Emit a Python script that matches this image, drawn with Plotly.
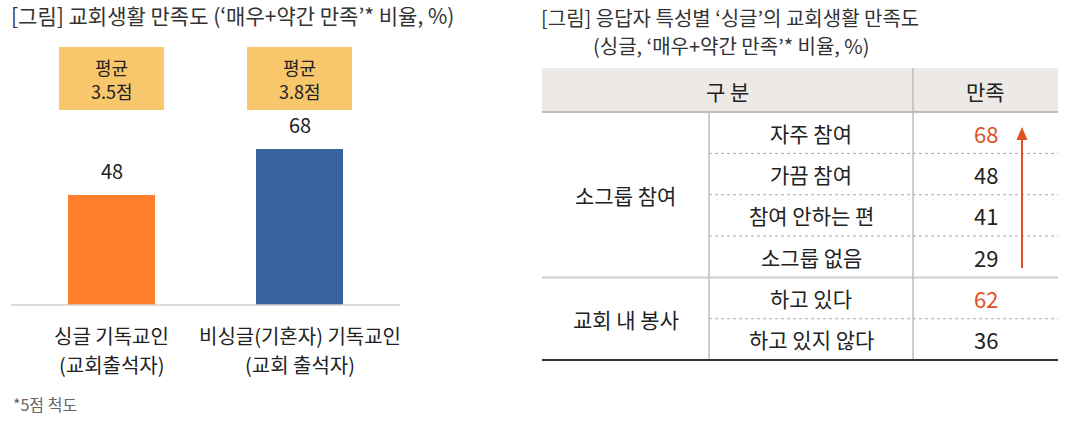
import plotly.graph_objects as go

W, H = 1078, 421
FONT = "Noto Sans CJK KR"

# ---- left chart data ----
bar_categories = ["싱글 기독교인", "비싱글(기혼자) 기독교인"]
bar_sublabels = ["(교회출석자)", "(교회 출석자)"]
bar_values = [48, 68]
bar_colors = ["#FD7E2D", "#37649F"]
avg_label = "평균"
avg_scores = ["3.5점", "3.8점"]

# ---- right table data ----
groups = ["소그룹 참여", "교회 내 봉사"]
group_sizes = [4, 2]
sub_items = ["자주 참여", "가끔 참여", "참여 안하는 편", "소그룹 없음", "하고 있다", "하고 있지 않다"]
sat_values = [68, 48, 41, 29, 62, 36]
highlight = [True, False, False, False, True, False]


def px(x):
    return x / W


def py(y):
    return 1 - y / H


def txt(x, y, text, size, color="#222", xanchor="center", xref="paper"):
    return dict(x=x, y=y, xref=xref, yref="paper", text=text, showarrow=False,
                xanchor=xanchor, yanchor="middle", font=dict(family=FONT, size=size, color=color))


fig = go.Figure()

xs = list(range(len(bar_categories)))
fig.add_trace(go.Bar(
    x=xs, y=bar_values, marker=dict(color=bar_colors, line=dict(width=0)),
    width=0.463, hoverinfo="skip", showlegend=False,
))

annotations = []
shapes = []

for i, v in enumerate(bar_values):
    annotations.append(dict(x=i, y=v, xref="x", yref="y", text=str(v), showarrow=False,
                            xanchor="center", yanchor="bottom", yshift=8,
                            font=dict(family=FONT, size=20, color="#222")))
    annotations.append(txt(i, py(335), bar_categories[i], 20, xref="x"))
    annotations.append(txt(i, py(364), bar_sublabels[i], 20, xref="x"))
    shapes.append(dict(type="rect", xref="x", yref="paper", x0=i - 0.279, x1=i + 0.279,
                       y0=py(110), y1=py(47), fillcolor="#F8C76C", line=dict(width=0), layer="below"))
    annotations.append(txt(i, py(67), avg_label, 18, xref="x"))
    annotations.append(txt(i, py(91), avg_scores[i], 18, xref="x"))

annotations.append(txt(px(9), py(15), "[그림] 교회생활 만족도 (‘매우+약간 만족’* 비율, %)", 21,
                       color="#333", xanchor="left"))
annotations.append(txt(px(11), py(404), "*5점 척도", 16, color="#666", xanchor="left"))

# ---- right table ----
TL, TR = 542, 1058
C1, C2 = 709, 913
HT, HB = 68, 112
ROW_H = 41.35

annotations.append(txt(px(539), py(17), "[그림] 응답자 특성별 ‘싱글’의 교회생활 만족도", 20,
                       color="#333", xanchor="left"))
annotations.append(txt(px(591), py(45), "(싱글, ‘매우+약간 만족’* 비율, %)", 20,
                       color="#333", xanchor="left"))

shapes.append(dict(type="rect", xref="paper", yref="paper", x0=px(TL), x1=px(TR), y0=py(HB), y1=py(HT),
                   fillcolor="#ECE9E6", line=dict(width=0), layer="below"))
annotations.append(txt(px((TL + C2) / 2), py(91), "구 분", 21))
annotations.append(txt(px((C2 + TR) / 2), py(91), "만족", 21))

row = 0
n_rows = len(sub_items)
for g, size in zip(groups, group_sizes):
    top = HB + row * ROW_H
    bottom = HB + (row + size) * ROW_H
    annotations.append(txt(px((TL + C1) / 2), py((top + bottom) / 2), g, 21))
    for k in range(size):
        r = row + k
        cy = HB + (r + 0.5) * ROW_H
        annotations.append(txt(px((C1 + C2) / 2), py(cy), sub_items[r], 21))
        annotations.append(txt(px((C2 + TR) / 2), py(cy), str(sat_values[r]), 22,
                               color="#E0521F" if highlight[r] else "#222"))
        if k < size - 1:
            ly = HB + (r + 1) * ROW_H
            shapes.append(dict(type="line", xref="paper", yref="paper", x0=px(C1), x1=px(TR),
                               y0=py(ly), y1=py(ly), line=dict(color="#AAAAAA", width=1, dash="dot")))
    row += size
    if row < n_rows:
        ly = HB + row * ROW_H
        shapes.append(dict(type="line", xref="paper", yref="paper", x0=px(TL), x1=px(TR),
                           y0=py(ly), y1=py(ly), line=dict(color="#CCCCCC", width=2)))

TB = HB + n_rows * ROW_H
shapes.append(dict(type="line", xref="paper", yref="paper", x0=px(TL), x1=px(TR), y0=py(HB), y1=py(HB),
                   line=dict(color="#AAAAAA", width=1.5)))
shapes.append(dict(type="line", xref="paper", yref="paper", x0=px(C1), x1=px(C1), y0=py(HB), y1=py(TB),
                   line=dict(color="#BBBBBB", width=1.5)))
shapes.append(dict(type="line", xref="paper", yref="paper", x0=px(C2), x1=px(C2), y0=py(HT), y1=py(TB),
                   line=dict(color="#BBBBBB", width=1.5)))
shapes.append(dict(type="line", xref="paper", yref="paper", x0=px(TL), x1=px(TR), y0=py(TB), y1=py(TB),
                   line=dict(color="#333333", width=2)))

# arrow
AX = 1022
shapes.append(dict(type="line", xref="paper", yref="paper", x0=px(AX), x1=px(AX), y0=py(268), y1=py(138),
                   line=dict(color="#E0521F", width=2)))
shapes.append(dict(type="path", xref="paper", yref="paper",
                   path=f"M {px(AX - 5.5)},{py(140)} L {px(AX + 5.5)},{py(140)} L {px(AX)},{py(127)} Z",
                   fillcolor="#E0521F", line=dict(width=0)))

# baseline of bar chart
shapes.append(dict(type="line", xref="paper", yref="paper", x0=px(11), x1=px(400),
                   y0=py(305), y1=py(305), line=dict(color="#D0D0D0", width=1.5)))

fig.update_layout(
    width=W, height=H, margin=dict(l=0, r=0, t=0, b=0),
    paper_bgcolor="white", plot_bgcolor="white",
    xaxis=dict(domain=[px(11), px(400)], range=[-0.5346, 1.5346], showgrid=False, zeroline=False,
               showticklabels=False, showline=False, fixedrange=True),
    yaxis=dict(domain=[py(305), py(76)], range=[0, 100], showgrid=False, zeroline=False,
               showticklabels=False, showline=False, fixedrange=True),
    shapes=shapes,
    annotations=annotations,
    bargap=0,
)

fig.write_html("out.html", config={"displayModeBar": False},
               post_script="document.body.style.margin='0';document.body.style.overflow='hidden';")
